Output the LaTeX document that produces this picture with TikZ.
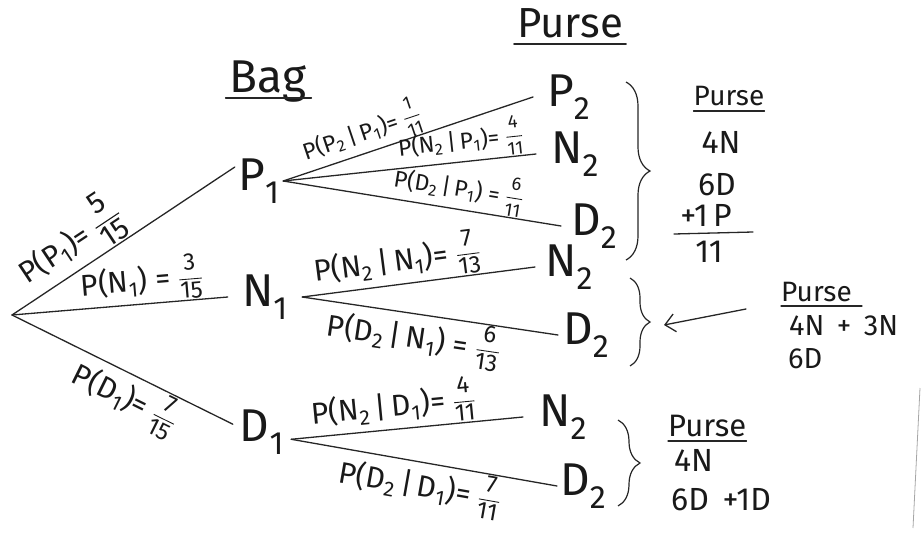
\documentclass[tikz,border=0pt]{standalone}
\usepackage{fontspec}
\usepackage{amsmath}
\usepackage{graphicx}
\setmainfont{Fira Sans}
\usetikzlibrary{decorations.pathreplacing,arrows.meta}
\newcommand{\fr}[3][0.8]{\raisebox{0.1em}{\scalebox{#1}{$\genfrac{}{}{1.1pt}{0}{\text{#2}}{\text{#3}}$}}}
\newcommand{\ssub}[2]{#1\textsubscript{#2}}
\begin{document}
\begin{tikzpicture}[x=1pt,y=-1pt,
  ink/.style={draw=black!85,line width=1.3pt,line cap=round},
  lbl/.style={font=\fontsize{30}{34}\selectfont,inner sep=1pt,text=black!90},
  rlbl/.style={font=\fontsize{30}{34}\selectfont,inner sep=1pt,text=black!90},
  slbl/.style={font=\fontsize{23}{26}\selectfont,inner sep=0.5pt,text=black!90},
  tnode/.style={font=\fontsize{46}{50}\selectfont,inner ysep=2pt,inner xsep=0pt,text=black!90},
  leaf/.style={tnode,anchor=west,inner xsep=#1},
  title/.style={font=\fontsize{42}{46}\selectfont,text=black!90,anchor=base,inner sep=0pt},
  subh/.style={font=\fontsize{28}{32}\selectfont,text=black!90,anchor=base,inner sep=0pt},
  boxt/.style={font=\fontsize{32}{36}\selectfont,text=black!90,anchor=base,inner sep=0pt},
  boxl/.style={boxt,anchor=base west},
  brc/.style={draw=black!85,line width=1.2pt,decorate,decoration={brace,amplitude=#1}}
]
\useasboundingbox (0,0) rectangle (922,536);

% root and first-level nodes
\coordinate (R) at (12,315);
\node[tnode,minimum width=48pt] (P1) at (259,181) {\ssub{P}{1}};
\node[tnode,minimum width=74pt] (N1) at (265,297) {\ssub{N}{1}};
\node[tnode,minimum width=58pt] (D1) at (262,432) {\ssub{D}{1}};

% second-level nodes
\node[leaf=14pt] (P2a) at (533,97) {\ssub{P}{2}};
\node[leaf=15pt] (N2a) at (536,154) {\ssub{N}{2}};
\node[leaf=10pt] (D2a) at (561,226) {\ssub{D}{2}};
\node[leaf=10pt] (N2b) at (535,267) {\ssub{N}{2}};
\node[leaf=5pt] (D2b) at (558,335) {\ssub{D}{2}};
\node[leaf=16pt] (N2c) at (523,417) {\ssub{N}{2}};
\node[leaf=3pt] (D2c) at (557,486) {\ssub{D}{2}};

% first-level branches
\draw[ink] (R) -- (P1.150) node[rlbl,sloped,above,pos=0.33] {P(\ssub{P}{1})= \fr[1]{5}{15}};
\draw[ink] (R) -- (N1.west) node[lbl,sloped,above,pos=0.61] {P(\ssub{N}{1}) = \fr{3}{15}};
\draw[ink] (R) -- (D1.165) node[lbl,sloped,below,pos=0.56] {P(\ssub{D}{1})= \fr{7}{15}};

% second-level branches
\draw[ink] (P1.east) -- (P2a.west) node[slbl,sloped,above,pos=0.34] {P(\ssub{P}{2}\,|\,\ssub{P}{1})= \fr{1}{11}};
\draw[ink] (P1.east) -- (N2a.west) node[slbl,sloped,above,pos=0.71] {P(\ssub{N}{2}\,|\,\ssub{P}{1})= \fr{4}{11}};
\draw[ink] (P1.east) -- (D2a.west) node[slbl,sloped,above,pos=0.62] {P(\ssub{D}{2}\,|\,\ssub{P}{1}) = \fr{6}{11}};
\draw[ink] (N1.east) -- (N2b.west) node[lbl,sloped,above,pos=0.42] {P(\ssub{N}{2}\,|\,\ssub{N}{1})= \fr{7}{13}};
\draw[ink] (N1.east) -- (D2b.west) node[lbl,sloped,below,pos=0.45] {P(\ssub{D}{2}\,|\,\ssub{N}{1}) = \fr{6}{13}};
\draw[ink] (D1.-14) -- (N2c.west) node[lbl,sloped,above,pos=0.45] {P(\ssub{N}{2}\,|\,\ssub{D}{1})= \fr{4}{11}};
\draw[ink] (D1.-14) -- (D2c.west) node[lbl,sloped,below,pos=0.5] {P(\ssub{D}{2}\,|\,\ssub{D}{1})= \fr{7}{11}};

% titles
\node[title,font=\fontsize{46}{50}\selectfont] (bag) at (268,92) {Bag};
\draw[ink] ([xshift=-4pt,yshift=-6pt]bag.base west) -- ([xshift=5pt,yshift=-6pt]bag.base east);
\node[title] (purse) at (570,37) {Purse};
\draw[ink] ([xshift=-3pt,yshift=-7pt]purse.base west) -- ([xshift=3pt,yshift=-7pt]purse.base east);

% braces
\draw[brc=24pt] (626,82) -- (626,260);
\draw[brc=20pt] (630,278) -- (630,366);
\draw[brc=22pt] (618,420) -- (618,506);

% purse box 1
\node[subh] (b1h) at (729,105) {Purse};
\draw[ink] ([yshift=-6pt]b1h.base west) -- ([yshift=-6pt]b1h.base east);
\node[boxt] (b1a) at (721,153) {4N};
\node[boxt] (b1b) at (717,195) {6D};
\node[boxt] (b1c) at (706,226) {+1\,P};
\coordinate (b1l) at (674,234);
\coordinate (b1r) at (753,232);
\draw[ink] (b1l) -- (b1r);
\node[boxt] (b1d) at (709,262) {11};

% purse box 2
\node[subh,anchor=base west] (b2h) at (781,301) {Purse};
\draw[ink] ([yshift=-5pt]b2h.base west) -- ([xshift=10pt,yshift=-5pt]b2h.base east);
\node[boxl,font=\fontsize{29}{32}\selectfont] (b2a) at (789,335) {4N \,+\, 3N};
\node[boxl,font=\fontsize{29}{32}\selectfont] (b2b) at (788,368) {6D};
\coordinate (arS) at (746,309);
\coordinate (arE) at (664,325);
\draw[ink,-{Straight Barb[length=10pt,width=18pt]}] (arS) -- (arE);

% purse box 3
\node[subh,font=\fontsize{31}{34}\selectfont,anchor=base west] (b3h) at (668,436) {Purse};
\draw[ink] ([yshift=-5pt]b3h.base west) -- ([yshift=-5pt]b3h.base east);
\node[boxl] (b3a) at (674,471) {4N};
\node[boxl] (b3b) at (671,510) {6D \,+1D};

% paper edge
\coordinate (e1) at (920,388);
\coordinate (e2) at (913,528);
\draw[black!35,line width=0.8pt] (e1) -- (e2);
\end{tikzpicture}
\end{document}
